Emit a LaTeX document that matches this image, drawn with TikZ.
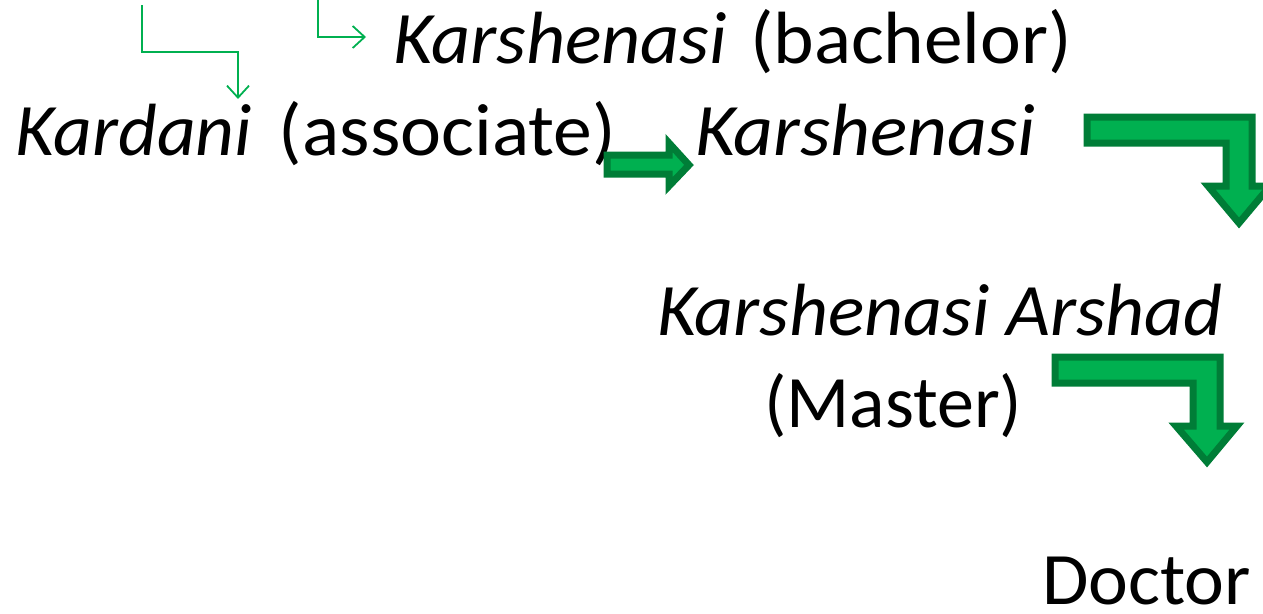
\documentclass[tikz,border=0pt]{standalone}
\usepackage{fontspec}
\setmainfont{Carlito}
\usetikzlibrary{arrows.meta}
\definecolor{grn}{RGB}{0,176,80}
\definecolor{dgrn}{RGB}{0,125,55}
\newcommand{\stre}[2]{{\addfontfeature{FakeStretch=#1}#2}}
\tikzset{
  lbl/.style={anchor=base west, inner sep=0pt, outer sep=0pt, text depth=0pt, font=\fontsize{74}{88}\selectfont},
  thin/.style={draw=grn, line width=1.8pt, -{Straight Barb[length=12pt,width=22pt,line width=1.8pt]}},
  block/.style={fill=grn, draw=dgrn, line width=7pt, line join=miter}
}
\begin{document}
\begin{tikzpicture}[x=1pt,y=-1pt]
\useasboundingbox (0,0) rectangle (1263,613);
\clip (0,0) rectangle (1263,613);
\node[lbl] (bach) at (393,63) {\itshape\stre{1.03}{Karshenasi}\upshape\hspace{23pt}\stre{1.045}{(bachelor)}};
\node[lbl] (kard) at (16,155) {\itshape\stre{1.02}{Kardani}\upshape\hspace{27pt}\stre{1.05}{(associate)}};
\node[lbl] (kars) at (695,155) {\itshape\stre{1.05}{Karshenasi}};
\node[lbl] (arsh) at (657,335) {\itshape\stre{1.025}{Karshenasi Arshad}};
\node[lbl] (mast) at (764,427) {(Master)};
\node[lbl] (doct) at (1042,604) {\stre{1.02}{Doctor}};
% thin connectors
\coordinate (s1) at (142,5);
\coordinate (e1) at (238,99);
\coordinate (s2) at (318,-2);
\coordinate (e2) at (366,37);
\draw[thin] (s1) |- (190,52) -| (e1);
\draw[thin] (s2) |- (e2);
% block arrows
\draw[block] (607,155) -- (669,155) -- (669,143) -- (689,165) -- (669,186) -- (669,174) -- (607,174) -- cycle;
\draw[block] (1087,117) -- (1252,117) -- (1252,186) -- (1270,186) -- (1239,223) -- (1208,186) -- (1226,186) -- (1226,143) -- (1087,143) -- cycle;
\draw[block] (1055,357) -- (1220,357) -- (1220,426) -- (1237,426) -- (1207,462) -- (1176,426) -- (1193,426) -- (1193,383) -- (1055,383) -- cycle;
\end{tikzpicture}
\end{document}
